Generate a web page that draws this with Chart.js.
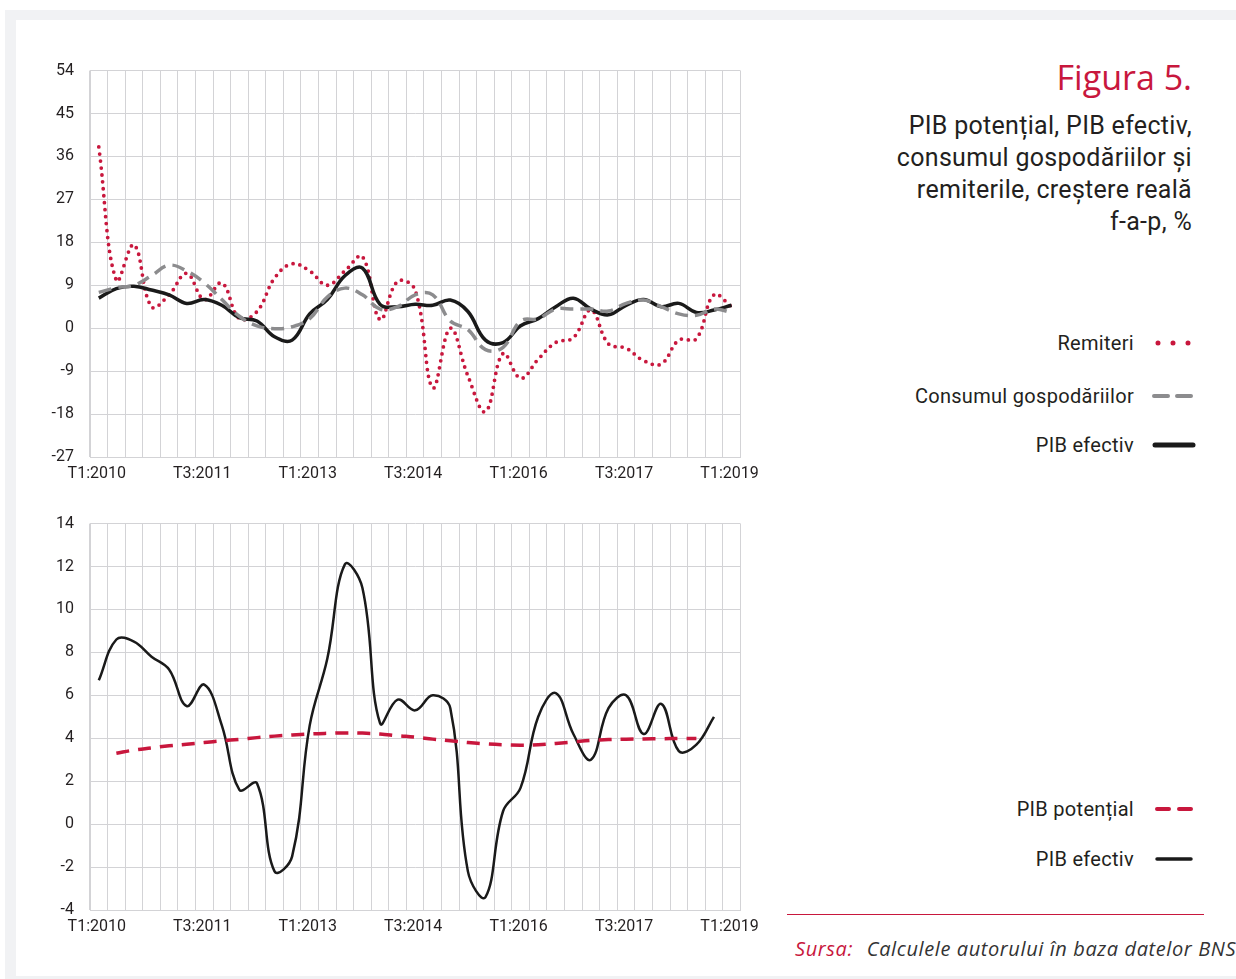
<!DOCTYPE html>
<html lang="ro">
<head>
<meta charset="utf-8">
<title>Figura 5</title>
<script src="https://cdn.jsdelivr.net/npm/chart.js@4.4.1/dist/chart.umd.min.js"></script>
<style>
    html, body { margin: 0; padding: 0; background: #fff; }
    body { width: 1236px; height: 979px; position: relative; overflow: hidden; font-family: Roboto, "Noto Sans", sans-serif; color: #231f20; }
    .frame { position: absolute; left: 5px; top: 10px; right: 0; bottom: 0; background: #f1f2f4; }
    .panel { position: absolute; left: 16px; top: 20px; right: 0; bottom: 3px; background: #fff; }
    .chart-box { position: absolute; left: 30px; width: 738px; height: 445px; }
    .chart-box canvas { width: 738px !important; height: 445px !important; }
    #topBox { top: 45px; }
    #bottomBox { top: 498px; }
    .fig-title { position: absolute; right: 44px; top: 54px; font-family: "Open Sans", sans-serif; font-size: 34px; color: #c8173d; }
    .fig-sub { position: absolute; right: 44px; top: 110px; text-align: right; font-size: 25px; letter-spacing: 0.3px; line-height: 32px; color: #231f20; }
    .leg { position: absolute; right: 102px; font-size: 20px; letter-spacing: 0.3px; text-align: right; white-space: nowrap; transform: translateY(-50%); }
    .sw { position: absolute; left: 1150px; width: 50px; height: 12px; transform: translateY(-50%); }
    .rule { position: absolute; left: 787px; width: 417px; top: 914px; height: 1px; background: #c8173d; }
    .source { position: absolute; left: 795px; top: 935px; font-family: "Open Sans", sans-serif; font-style: italic; font-size: 20px; letter-spacing: 0.6px; white-space: nowrap; color: #333; }
    .source span { color: #c8173d; margin-right: 8px; }
</style>
</head>
<body>
<div class="frame"></div>
<div class="panel"></div>

<div class="chart-box" id="topBox"><canvas id="topChart" width="738" height="445"></canvas></div>
<div class="chart-box" id="bottomBox"><canvas id="bottomChart" width="738" height="445"></canvas></div>

<div class="fig-title">Figura 5.</div>
<div class="fig-sub">PIB potențial, PIB efectiv,<br>consumul gospodăriilor și<br>remiterile, creștere reală<br>f-a-p, %</div>

<div class="leg" style="top:343px">Remiteri</div>
<svg class="sw" style="top:343px" viewBox="0 0 50 12"><line x1="8" y1="6" x2="40" y2="6" stroke="#c8173d" stroke-width="5" stroke-linecap="round" stroke-dasharray="0 15"/></svg>
<div class="leg" style="top:396px">Consumul gospodăriilor</div>
<svg class="sw" style="top:396px" viewBox="0 0 50 12"><line x1="4" y1="6" x2="45" y2="6" stroke="#8c8c8e" stroke-width="4" stroke-linecap="round" stroke-dasharray="14 9"/></svg>
<div class="leg" style="top:445px">PIB efectiv</div>
<svg class="sw" style="top:445px" viewBox="0 0 50 12"><line x1="5" y1="6" x2="43" y2="6" stroke="#1a1a1a" stroke-width="5" stroke-linecap="round"/></svg>

<div class="leg" style="top:809px">PIB potențial</div>
<svg class="sw" style="top:809px" viewBox="0 0 50 12"><line x1="7" y1="6" x2="41" y2="6" stroke="#c8173d" stroke-width="4" stroke-linecap="round" stroke-dasharray="12 10"/></svg>
<div class="leg" style="top:859px">PIB efectiv</div>
<svg class="sw" style="top:859px" viewBox="0 0 50 12"><line x1="7" y1="6" x2="41" y2="6" stroke="#1a1a1a" stroke-width="3.5" stroke-linecap="round"/></svg>

<div class="rule"></div>
<div class="source"><span>Sursa:</span> Calculele autorului în baza datelor BNS</div>

<script>
// quarters T1:2010 .. T1:2019
const quarters = [
    'T1:2010', 'T2:2010', 'T3:2010', 'T4:2010',
    'T1:2011', 'T2:2011', 'T3:2011', 'T4:2011',
    'T1:2012', 'T2:2012', 'T3:2012', 'T4:2012',
    'T1:2013', 'T2:2013', 'T3:2013', 'T4:2013',
    'T1:2014', 'T2:2014', 'T3:2014', 'T4:2014',
    'T1:2015', 'T2:2015', 'T3:2015', 'T4:2015',
    'T1:2016', 'T2:2016', 'T3:2016', 'T4:2016',
    'T1:2017', 'T2:2017', 'T3:2017', 'T4:2017',
    'T1:2018', 'T2:2018', 'T3:2018', 'T4:2018',
    'T1:2019'
];

// top panel
const topTicks = [-27, -18, -9, 0, 9, 18, 27, 36, 45, 54];
const remiteri = [38, 10, 17.5, 4.5, 7, 11.5, 6, 9.5, 2, 3.5, 10.5, 13.5, 12, 9, 12, 15, 1.8, 9.8, 8, -12.5, 0, -10, -17.5, -5.3, -10.5, -6.5, -3, -2, 3.8, -3.3, -4.2, -6.8, -7.5, -2.5, -2.2, 7, 4.5];
const consum = [7.5, 8.5, 9, 11, 13.2, 12, 9.5, 6, 2.5, 0.5, -0.1, 0.3, 2, 6.5, 8.4, 7, 4, 4.5, 7, 7, 1.5, -0.3, -4.5, -4, 1.5, 2, 4, 4, 4, 3.6, 5.2, 5.9, 4.5, 3, 2.7, 4, 3.3];
const pibTop = [6.3, 8.3, 8.8, 8, 7, 5.2, 6, 4.8, 2.2, 1.5, -1.8, -2.5, 3, 6, 11, 12.6, 5, 4.5, 5, 4.8, 5.9, 3.5, -2.5, -3, 0.5, 2, 4.5, 6.3, 4, 2.8, 4.8, 6, 4.5, 5.2, 3.3, 3.8, 4.8];

// bottom panel
const bottomTicks = [-4, -2, 0, 2, 4, 6, 8, 10, 12, 14];
const pibEfectiv = [6.7, 8.6, 8.5, 7.8, 7.2, 5.5, 6.5, 4.6, 1.6, 1.9, -2.2, -1.5, 4.6, 7.7, 12.1, 11.0, 4.7, 5.8, 5.3, 6.0, 5.4, -2.2, -3.4, 0.6, 1.7, 5.0, 6.1, 4.2, 3.0, 5.4, 6.0, 4.2, 5.6, 3.4, 3.7, 5.0, null];
const pibPotential = [null, 3.3, 3.45, 3.55, 3.65, 3.72, 3.8, 3.88, 3.95, 4.03, 4.1, 4.15, 4.2, 4.23, 4.25, 4.24, 4.2, 4.12, 4.05, 3.96, 3.88, 3.8, 3.74, 3.7, 3.68, 3.7, 3.76, 3.83, 3.9, 3.94, 3.96, 3.97, 3.98, 3.99, 3.99, null, null];

const RED = '#c8173d';
const GRID = '#d3d3d6';
const TEXT = '#231f20';

function makeOptions(ticks) {
    return {
        responsive: false,
        animation: false,
        layout: { padding: { top: 10, right: 19, left: 0, bottom: 0 } },
        plugins: { legend: { display: false }, tooltip: { enabled: false } },
        elements: { point: { radius: 0 } },
        scales: {
            x: {
                offset: true,
                grid: { offset: true, color: GRID, lineWidth: 1, drawTicks: false },
                border: { color: GRID },
                afterFit: function(scale) { scale.height = 33; },
                ticks: {
                    autoSkip: false,
                    maxRotation: 0,
                    padding: 7,
                    labelOffset: -2,
                    color: TEXT,
                    font: { family: 'Roboto', size: 16 },
                    callback: function(value, index) {
                        return index % 6 === 0 ? quarters[index] : '';
                    }
                }
            },
            y: {
                min: ticks[0],
                max: ticks[ticks.length - 1],
                afterFit: function(scale) { scale.width = 60; },
                afterBuildTicks: function(scale) {
                    scale.ticks = ticks.map(v => ({ value: v }));
                },
                grid: { color: GRID, lineWidth: 1, drawTicks: false },
                border: { color: GRID },
                ticks: {
                    padding: 16,
                    color: TEXT,
                    font: { family: 'Roboto', size: 16 }
                }
            }
        }
    };
}

new Chart(document.getElementById('topChart'), {
    type: 'line',
    data: {
        labels: quarters,
        datasets: [
            {
                label: 'Consumul gospodăriilor',
                data: consum,
                borderColor: '#8c8c8e',
                borderWidth: 3.5,
                borderDash: [13, 7],
                tension: 0.4,
                fill: false
            },
            {
                label: 'PIB efectiv',
                data: pibTop,
                borderColor: '#1a1a1a',
                borderWidth: 3.5,
                tension: 0.4,
                fill: false
            },
            {
                label: 'Remiteri',
                data: remiteri,
                borderColor: RED,
                borderWidth: 3.8,
                borderDash: [0, 7],
                borderCapStyle: 'round',
                tension: 0.4,
                fill: false
            }
        ]
    },
    options: makeOptions(topTicks)
});

new Chart(document.getElementById('bottomChart'), {
    type: 'line',
    data: {
        labels: quarters,
        datasets: [
            {
                label: 'PIB potențial',
                data: pibPotential,
                borderColor: RED,
                borderWidth: 3.5,
                borderDash: [13, 9],
                tension: 0.4,
                fill: false
            },
            {
                label: 'PIB efectiv',
                data: pibEfectiv,
                borderColor: '#1a1a1a',
                borderWidth: 2.5,
                tension: 0.4,
                fill: false
            }
        ]
    },
    options: makeOptions(bottomTicks)
});
</script>
</body>
</html>
